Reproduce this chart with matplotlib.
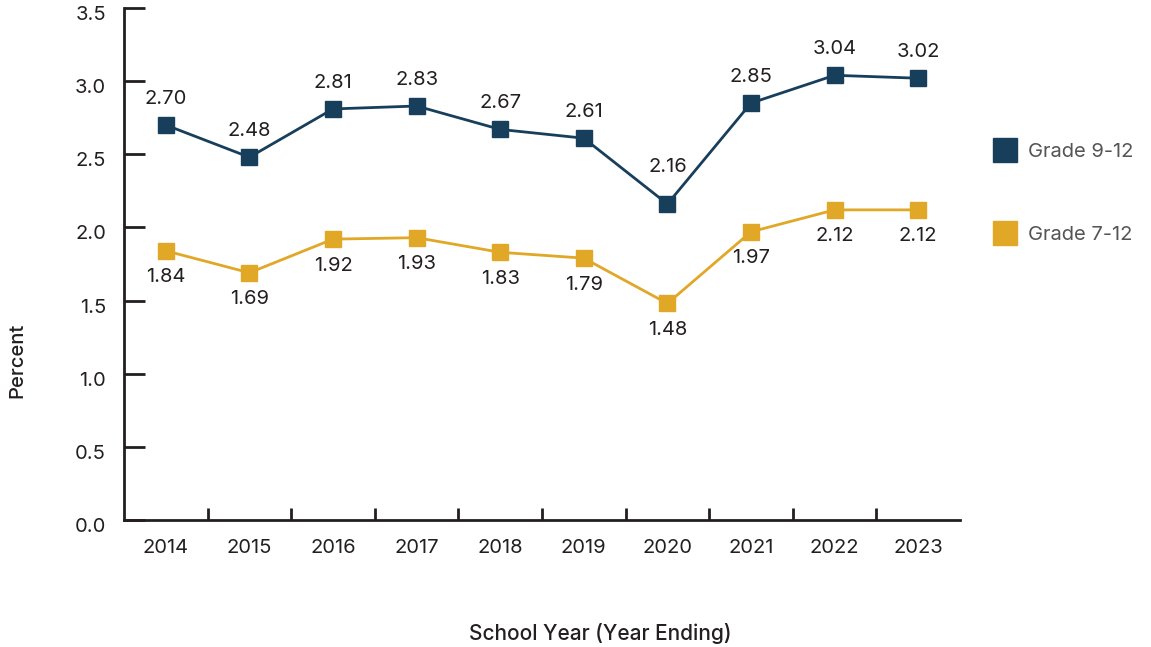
import matplotlib.pyplot as plt
import matplotlib.transforms as mtransforms
from matplotlib.lines import Line2D

years = ["2014", "2015", "2016", "2017", "2018", "2019", "2020", "2021", "2022", "2023"]
grade912 = [2.70, 2.48, 2.81, 2.83, 2.67, 2.61, 2.16, 2.85, 3.04, 3.02]
grade712 = [1.84, 1.69, 1.92, 1.93, 1.83, 1.79, 1.48, 1.97, 2.12, 2.12]
yTicks = [0.0, 0.5, 1.0, 1.5, 2.0, 2.5, 3.0, 3.5]

navy = "#173f5c"
gold = "#e1a727"
ink = "#231f20"
fs = 14.5

plt.rcParams["font.family"] = ["Inter", "DejaVu Sans"]

fig = plt.figure(figsize=(11.51, 6.47), dpi=100)
ax = fig.add_axes([124 / 1151, 1 - 520 / 647, (960 - 124) / 1151, (520 - 8) / 647])

x = list(range(len(years)))
ax.plot(x, grade912, color=navy, linewidth=2, marker="s", markersize=11, zorder=3)
ax.plot(x, grade712, color=gold, linewidth=2, marker="s", markersize=11, zorder=3)

# label offsets in points; the 2020 upper label is pushed clear of the V in the line
upOffset = {6: 27}
for xi, v in zip(x, grade912):
    ax.annotate(f"{v:.2f}", (xi, v), xytext=(0, upOffset.get(xi, 19)), textcoords="offset points",
                ha="center", va="center", fontsize=fs, color=ink)
for xi, v in zip(x, grade712):
    ax.annotate(f"{v:.2f}", (xi, v), xytext=(0, -19), textcoords="offset points",
                ha="center", va="center", fontsize=fs, color=ink)

ax.set_xlim(-0.5, len(years) - 0.5)
ax.set_ylim(0, 3.5)
ax.set_yticks(yTicks)
ax.set_yticklabels([f"{t:.1f}" for t in yTicks])
ax.set_xticks(x)
ax.set_xticklabels(years)
ax.set_xticks([i + 0.5 for i in range(len(years) - 1)], minor=True)

ax.tick_params(axis="y", direction="in", length=15, width=2, color=ink,
               labelsize=fs, labelcolor=ink, pad=13)
ax.tick_params(axis="x", which="major", length=0, labelsize=fs, labelcolor=ink, pad=14)
ax.tick_params(axis="x", which="minor", direction="in", length=9, width=2, color=ink)

# y labels sit a little below their ticks in the original
shift = mtransforms.ScaledTranslation(0, -5 / 100, fig.dpi_scale_trans)
for lbl in ax.get_yticklabels():
    lbl.set_transform(lbl.get_transform() + shift)

for side in ["top", "right"]:
    ax.spines[side].set_visible(False)
for side in ["left", "bottom"]:
    ax.spines[side].set_linewidth(2)
    ax.spines[side].set_color(ink)

fig.text(17 / 1151, 1 - 360 / 647, "Percent", rotation=90, ha="center", va="center",
         fontsize=fs, color=ink, fontweight="medium")
fig.text(600 / 1151, 1 - 633 / 647, "School Year (Year Ending)", ha="center", va="center",
         fontsize=15, color=ink, fontweight="medium")

handles = [
    Line2D([], [], color=navy, marker="s", markersize=17, linestyle="none"),
    Line2D([], [], color=gold, marker="s", markersize=17, linestyle="none"),
]
fig.legend(handles, ["Grade 9-12", "Grade 7-12"], loc="upper left",
           bbox_to_anchor=(975 / 1151, 1 - 125 / 647), frameon=False,
           fontsize=fs, labelcolor="#555555", labelspacing=3.2,
           handletextpad=0.55, handlelength=1.2)

fig.savefig("out.png", dpi=100, facecolor="white")
